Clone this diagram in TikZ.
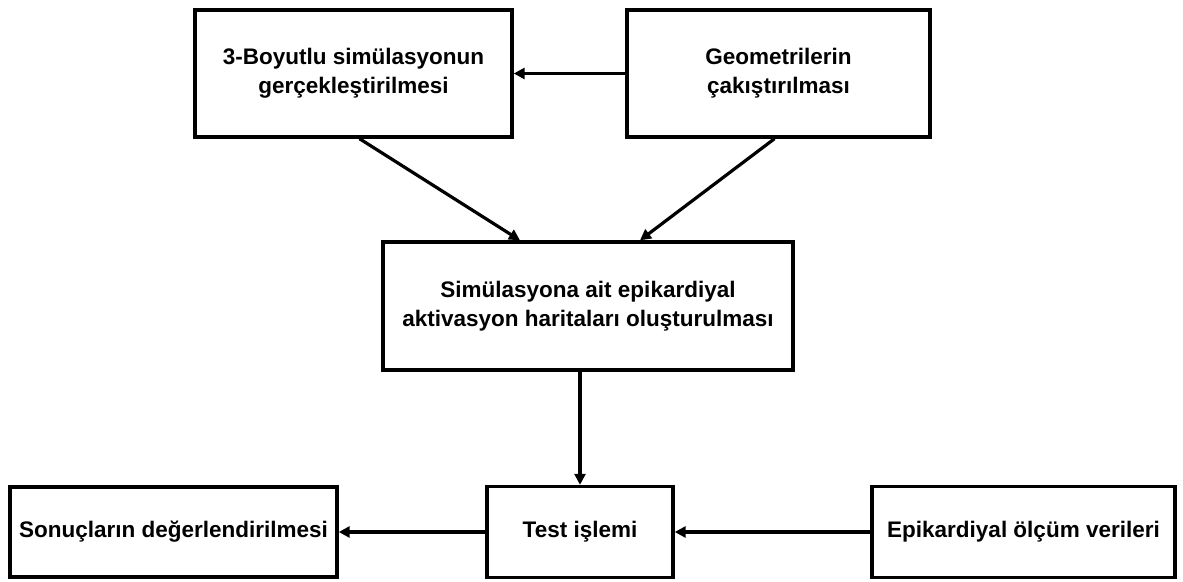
\documentclass[tikz,border=0pt]{standalone}
\usepackage{fontspec}
\setmainfont{Liberation Sans}
\usetikzlibrary{arrows.meta}

\tikzset{
  box/.style={shape=rectangle,draw=black,line width=3.4pt,align=center,
    font=\fontsize{22.5}{29}\selectfont\bfseries},
  arr/.style={line width=3.2pt,-{Triangle[length=11pt,width=11pt]}}
}

\begin{document}
\begin{tikzpicture}[x=1pt,y=-1pt]
        \useasboundingbox (0,0) rectangle (1183,581);
        % upper row
        \node[box,minimum width=317pt,minimum height=127pt](sim) at (353.5,73.5)  {3-Boyutlu simülasyonun\\gerçekleştirilmesi};
        \node[box,minimum width=303pt,minimum height=127pt](geo) at (778.5,73.5)  {Geometrilerin\\çakıştırılması};
        % middle
        \node[box,minimum width=410pt,minimum height=128pt](harita) at (588,306)  {Simülasyona ait epikardiyal\\aktivasyon haritaları oluşturulması};
        % lower row
        \node[box,minimum width=327pt,minimum height=90pt](sonuc) at (173.5,532)  {Sonuçların değerlendirilmesi};
        \node[box,minimum width=186pt,minimum height=91pt](test) at (580,532)  {Test işlemi};
        \node[box,minimum width=303pt,minimum height=91pt](olcum) at (1023.5,532)  {Epikardiyal ölçüm verileri};

        \draw[arr] (geo.west) -- (sim.east);
        \draw[arr] ([xshift=6pt]sim.south) -- ([xshift=-68pt]harita.north);
        \draw[arr] ([xshift=-4pt]geo.south) -- ([xshift=52pt]harita.north);
        \draw[arr] (harita.south -| test.north) -- (test.north);
        \draw[arr] (test.west) -- (sonuc.east);
        \draw[arr] (olcum.west) -- (test.east);
       % \node[box](x) at (0,0) {};
    \end{tikzpicture}
\end{document}
